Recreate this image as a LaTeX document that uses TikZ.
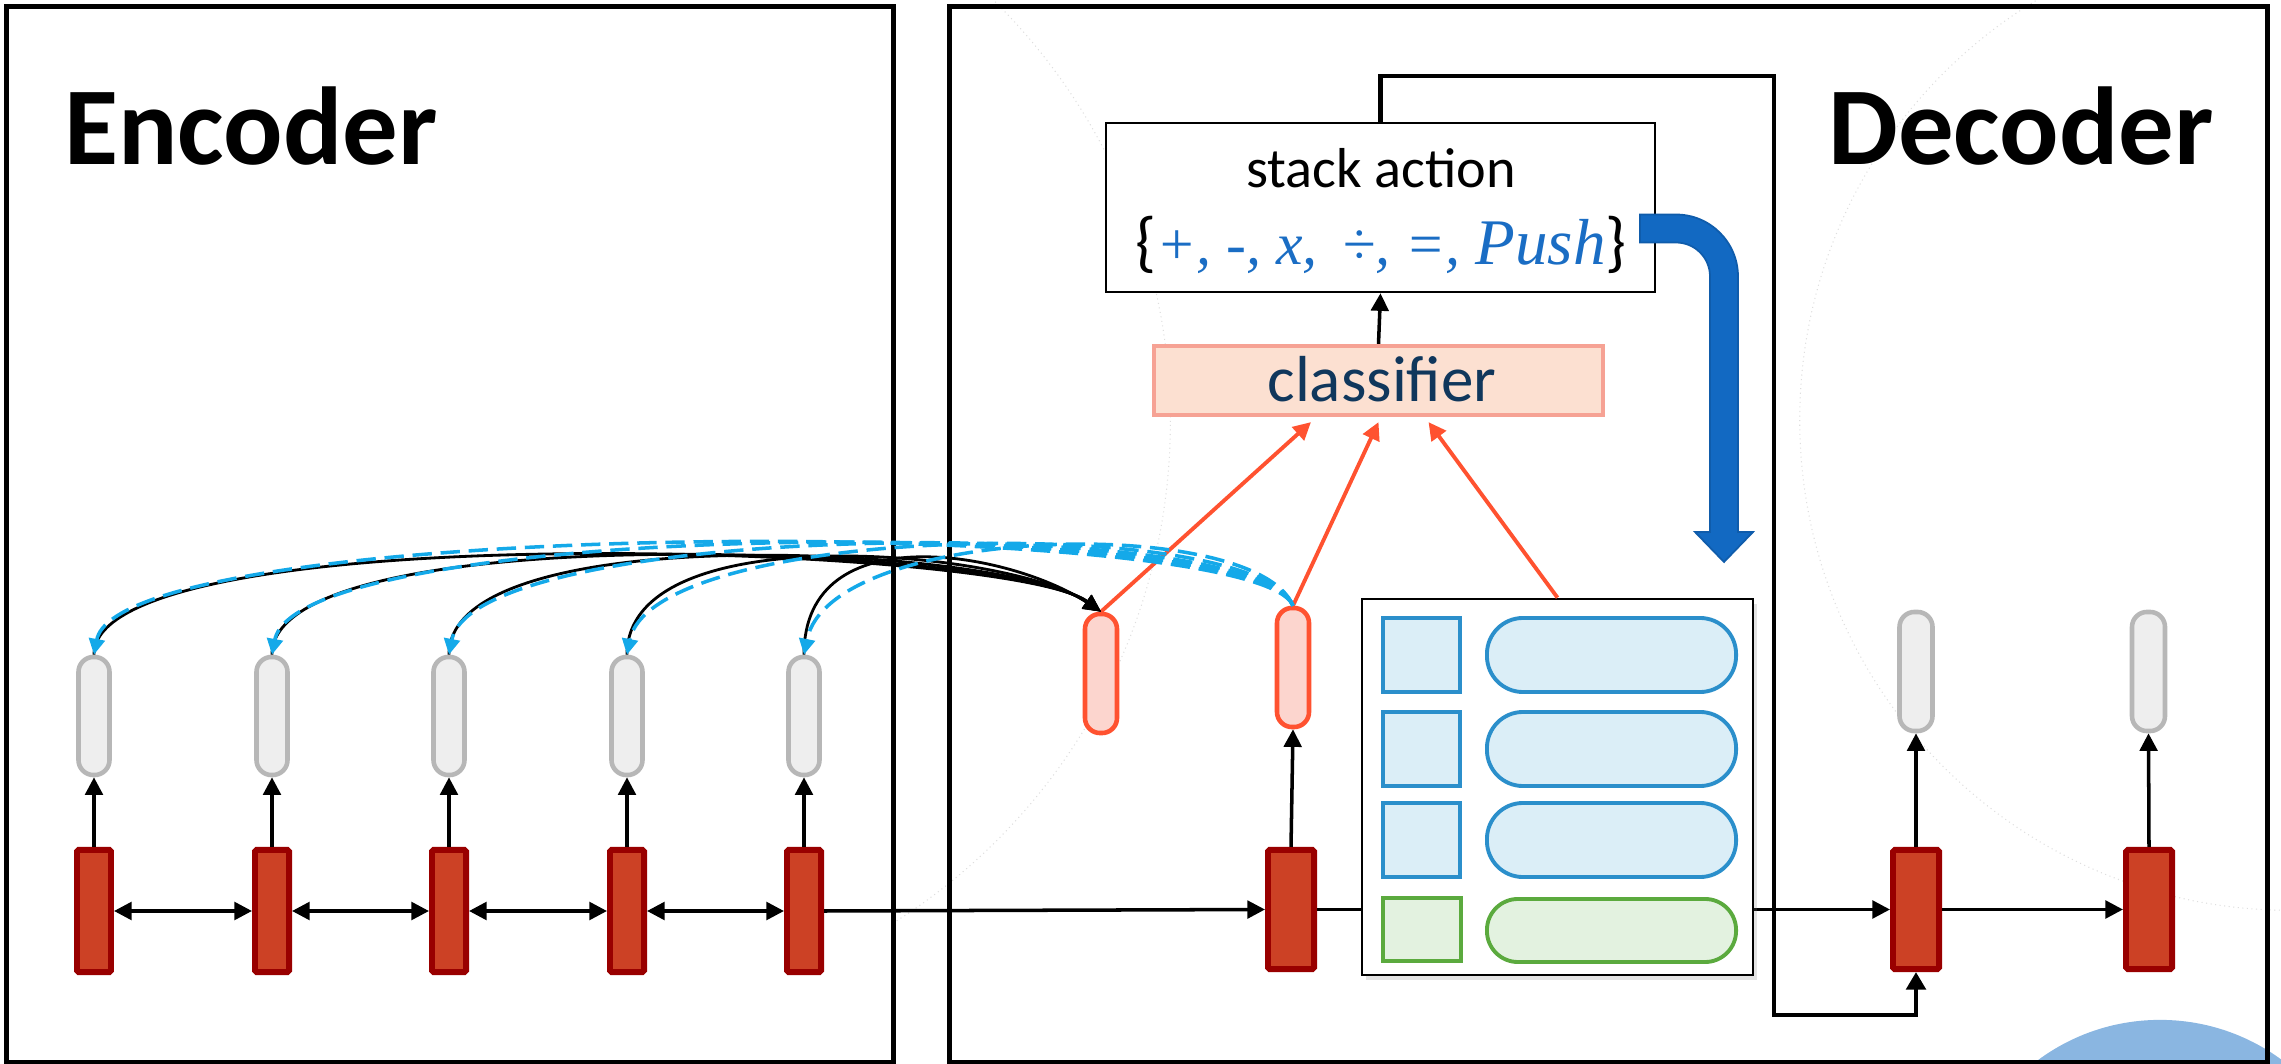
\documentclass[tikz,border=0pt]{standalone}
\usepackage{fontspec}
\setmainfont{Carlito}
\newfontfamily\tnr{Liberation Serif}
\usetikzlibrary{arrows.meta,shadows,calc}
\definecolor{redfill}{HTML}{CC4125}
\definecolor{reddraw}{HTML}{990000}
\definecolor{greyfill}{HTML}{EEEEEE}
\definecolor{greydraw}{HTML}{B7B7B7}
\definecolor{pinkfill}{HTML}{FCD5CE}
\definecolor{pinkdraw}{HTML}{FF5230}
\definecolor{clsfill}{HTML}{FCE0D1}
\definecolor{clsdraw}{HTML}{F6A294}
\definecolor{clsnavy}{HTML}{10375C}
\definecolor{memblue}{HTML}{2B8FCB}
\definecolor{memfill}{HTML}{DBEEF7}
\definecolor{memgreen}{HTML}{5BAA3E}
\definecolor{memgfill}{HTML}{E3F2E0}
\definecolor{bigblue}{HTML}{1269C2}
\definecolor{bigbluedark}{HTML}{0F5CAB}
\definecolor{setblue}{HTML}{1A6DC4}
\definecolor{dashblue}{HTML}{14A9E9}
\definecolor{botblue}{HTML}{8AB6E1}
\begin{document}
\begin{tikzpicture}[x=0.01cm,y=-0.01cm,
  frame/.style={draw=black,line width=1.35pt,inner sep=0pt},
  rbar/.style={draw=reddraw,fill=redfill,line width=1.7pt,inner sep=0pt,minimum width=0.34cm,minimum height=1.22cm,rounded corners=0.5pt},
  dbar/.style={rbar,minimum width=0.46cm,minimum height=1.19cm},
  gpill/.style={draw=greydraw,fill=greyfill,line width=1.3pt,inner sep=0pt,minimum width=0.31cm,minimum height=1.18cm,rounded corners=0.15cm},
  ppill/.style={gpill,draw=pinkdraw,fill=pinkfill,minimum width=0.32cm,minimum height=1.19cm},
  conn/.style={line width=1pt,-{Triangle[length=5pt,width=5pt]}},
  biconn/.style={line width=1pt,{Triangle[length=5pt,width=5pt]}-{Triangle[length=5pt,width=5pt]}},
  att/.style={line width=0.8pt,-{Triangle[length=5pt,width=4.5pt]}},
  attback/.style={line width=1pt,draw=dashblue,dash pattern=on 5.5pt off 2.5pt,-{Triangle[length=4.5pt,width=4.5pt]}},
  redline/.style={line width=1.1pt,draw=pinkdraw,-{Triangle[length=5pt,width=5pt]}},
  memsq/.style={draw=memblue,fill=memfill,line width=1.1pt,inner sep=0pt,minimum width=0.77cm,minimum height=0.74cm},
  mempill/.style={draw=memblue,fill=memfill,line width=1.1pt,inner sep=0pt,minimum width=2.49cm,minimum height=0.74cm,rounded corners=0.36cm},
  faint/.style={draw=black!13,line width=0.3pt,densely dotted}
]
\useasboundingbox (0,0) rectangle (2281,1064);
% faint decorative circles
\begin{scope}
  \clip (894,0) rectangle (2281,1064);
  \draw[faint] (579,422) circle[radius=5.91cm];
  \draw[faint] (2290,420) circle[radius=4.9cm];
\end{scope}
\begin{scope}
  \clip (0,0) rectangle (2281,1064);
  \fill[botblue] (2160,1225) circle[radius=2.05cm];
\end{scope}
% frames
\node[frame,minimum width=8.86cm,minimum height=10.55cm] (encbox) at (450,534.5) {};
\node[frame,minimum width=13.17cm,minimum height=10.55cm] (decbox) at (1608.5,534.5) {};
\node[font=\fontsize{31.5}{36}\selectfont\bfseries,anchor=base] (enctitle) at (251,165) {Encoder};
\node[font=\fontsize{31.5}{36}\selectfont\bfseries,anchor=base] (dectitle) at (2021,165) {Decoder};
% encoder
\foreach \i/\x in {1/94,2/272,3/449,4/627,5/804}{
  \node[rbar] (e\i) at (\x,911) {};
  \node[gpill] (g\i) at (\x,716) {};
  \draw[conn] (e\i.north) -- (g\i.south);
}
\foreach \i/\j in {1/2,2/3,3/4,4/5}{\draw[biconn] (e\i.east) -- (e\j.west);}
% decoder
\node[dbar] (d1) at (1291,909.5) {};
\node[dbar] (d2) at (1916,909.5) {};
\node[dbar] (d3) at (2149,909.5) {};
\node[ppill] (p1) at (1101,673.5) {};
\node[ppill] (p2) at (1293,667.5) {};
\node[gpill,minimum width=0.33cm,minimum height=1.19cm] (h1) at (1916,671.5) {};
\node[gpill,minimum width=0.33cm,minimum height=1.19cm] (h2) at (2148.5,671.5) {};
\draw[conn] (e5.east) -- (d1.west);
\draw[conn] (d1.east) -- (d2.west);
\draw[conn] (d2.east) -- (d3.west);
\draw[conn] (d1.north) -- (p2.south);
\draw[conn] (d2.north) -- (h1.south);
\draw[conn] (d3.north) -- (h2.south);
% stack action & classifier
\node[draw=black,fill=white,line width=0.7pt,minimum width=5.49cm,minimum height=1.69cm,inner sep=0pt] (stack) at (1380.5,207.5) {};
\node[font=\fontsize{16}{19}\selectfont,anchor=base] (satext) at (1381,188) {stack action};
\node[anchor=base,inner sep=0pt] (ops) at (1381,265) {{\fontsize{19}{22}\selectfont\{}{\color{setblue}\tnr\itshape\fontsize{17}{20}\selectfont +, -, x, \,÷, =, {\fontsize{18.5}{22}\selectfont Push}}{\fontsize{19}{22}\selectfont\}}};
\node[draw=clsdraw,fill=clsfill,line width=1.2pt,minimum width=4.49cm,minimum height=0.69cm,inner sep=0pt] (cls) at (1378.5,380.5) {};
\node[font=\fontsize{18.5}{22}\selectfont,text=clsnavy,anchor=base] (clstext) at (1382,402) {classifier};
\draw[conn] (cls.north) -- (stack.south);
% feedback loop
\coordinate (fbA) at (1774,76);
\coordinate (fbB) at (1774,1015);
\draw[line width=1.2pt,-{Triangle[length=5pt,width=5.5pt]}] (stack.north) |- (fbA) -- (fbB) -| (d2.south);
% memory stack
\node[draw=black,fill=white,line width=0.7pt,minimum width=3.91cm,minimum height=3.76cm,inner sep=0pt,
  drop shadow={shadow xshift=0.04cm,shadow yshift=-0.05cm,opacity=0.22}] (mem) at (1557.5,787) {};
\node[memsq] (m1s) at (1421.5,655) {};
\node[memsq] (m2s) at (1421.5,749) {};
\node[memsq] (m3s) at (1421.5,840) {};
\node[memsq,draw=memgreen,fill=memgfill,minimum width=0.78cm,minimum height=0.63cm] (m4s) at (1422,929.5) {};
\node[mempill] (m1p) at (1611.5,655) {};
\node[mempill] (m2p) at (1611.5,749) {};
\node[mempill] (m3p) at (1611.5,840) {};
\node[mempill,draw=memgreen,fill=memgfill,minimum height=0.63cm,rounded corners=0.31cm] (m4p) at (1611.5,930.5) {};
% red connectors to classifier
\draw[redline] (p1.north) -- ([xshift=-0.675cm,yshift=-0.05cm]cls.south);
\draw[redline] (p2.north) -- ([yshift=-0.05cm]cls.south);
\draw[redline] (mem.north) -- ([xshift=0.5cm,yshift=-0.05cm]cls.south);
% attention curves
\foreach \i/\x/\c in {1/94/544,2/272/546,3/449/548,4/627/550,5/804/552}{
  \draw[att] (g\i.north) .. controls (\x,514) and (1010,\c) .. (p1.north);
}
\foreach \i/\x/\c in {1/120/516,2/298/518,3/475/520,4/653/522,5/830/524}{
  \draw[attback] (p2.north) .. controls (1255,514) and (\x,\c) .. (g\i.north);
}
% big blue bent arrow
\filldraw[fill=bigblue,draw=bigbluedark,line width=0.5pt]
  (1640,214.5) -- (1676,214.5) .. controls (1710.2,214.5) and (1738,242.3) .. (1738,276.5)
  -- (1738,532) -- (1753,532) -- (1724,562) -- (1695,532) -- (1710,532) -- (1710,276.5)
  .. controls (1710,257.7) and (1694.8,242.5) .. (1676,242.5) -- (1640,242.5) -- cycle;
\end{tikzpicture}
\end{document}
